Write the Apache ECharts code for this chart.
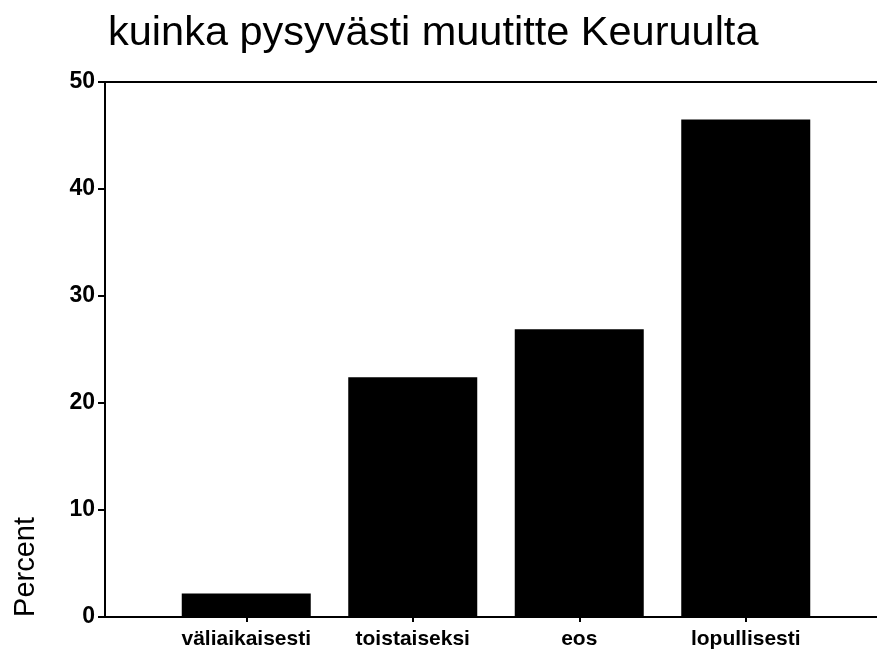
<!DOCTYPE html>
<html>
<head>
<meta charset="utf-8">
<script src="https://cdn.jsdelivr.net/npm/echarts@6/dist/echarts.min.js"></script>
<style>
  html, body { margin: 0; padding: 0; background: #fff; }
  #main { width: 877px; height: 653px; }
</style>
</head>
<body>
<div id="main"></div>
<script>
var categories = ['väliaikaisesti', 'toistaiseksi', 'eos', 'lopullisesti'];
var percentValues = [2.2, 22.4, 26.9, 46.5];
var yTicks = [0, 10, 20, 30, 40, 50];

var chart = echarts.init(document.getElementById('main'), null, {renderer: 'canvas'});
var font = 'Liberation Sans, Arial, Helvetica, sans-serif';

chart.setOption({
  animation: false,
  backgroundColor: '#fff',
  title: {
    text: 'kuinka pysyvästi muutitte Keuruulta',
    left: 103,
    top: 8,
    textStyle: {fontFamily: font, fontSize: 41.5, fontWeight: 'normal', color: '#000'}
  },
  graphic: [{
    type: 'text',
    left: 11,
    top: 517,
    rotation: Math.PI / 2,
    style: {text: 'Percent', font: '29px ' + font, fill: '#000'}
  }],
  grid: [
    // frame: y axis + top/bottom lines
    {left: 105, right: 0, top: 82, bottom: 36},
    // bars
    {left: 163, right: 48, top: 82, bottom: 36}
  ],
  xAxis: [
    {gridIndex: 0, type: 'value', min: 0, max: 1, position: 'bottom',
      axisLine: {show: true, lineStyle: {color: '#000', width: 2}},
      axisTick: {show: false}, axisLabel: {show: false}, splitLine: {show: false}},
    {gridIndex: 0, type: 'value', min: 0, max: 1, position: 'top',
      axisLine: {show: true, lineStyle: {color: '#000', width: 2}},
      axisTick: {show: false}, axisLabel: {show: false}, splitLine: {show: false}},
    {gridIndex: 1, type: 'category', data: categories, position: 'bottom',
      axisLine: {show: false},
      axisTick: {show: true, alignWithLabel: true, length: 5, lineStyle: {color: '#000', width: 2}},
      axisLabel: {fontFamily: font, fontSize: 21, fontWeight: 'bold', color: '#000', margin: 12, interval: 0}}
  ],
  yAxis: [
    {gridIndex: 0, type: 'value', min: yTicks[0], max: yTicks[yTicks.length - 1], interval: 10,
      axisLine: {show: true, lineStyle: {color: '#000', width: 2}},
      axisTick: {show: true, length: 7, lineStyle: {color: '#000', width: 2}},
      axisLabel: {fontFamily: font, fontSize: 23, fontWeight: 'bold', color: '#000', margin: 10},
      splitLine: {show: false}},
    {gridIndex: 1, type: 'value', min: yTicks[0], max: yTicks[yTicks.length - 1], show: false}
  ],
  series: [{
    type: 'bar',
    xAxisIndex: 2,
    yAxisIndex: 1,
    data: percentValues,
    barWidth: 129,
    itemStyle: {color: '#000'}
  }]
});
</script>
</body>
</html>
